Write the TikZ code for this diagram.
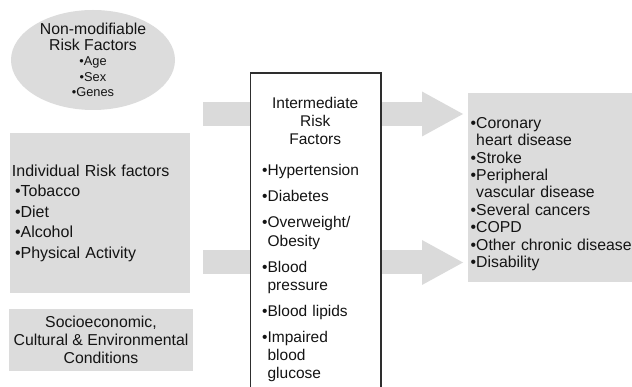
\documentclass[tikz,border=0pt]{standalone}
\usepackage{fontspec}
\setmainfont{Liberation Sans}
\usetikzlibrary{arrows.meta,positioning,shapes.geometric}
\definecolor{boxgray}{HTML}{DCDCDC}
\definecolor{arrowgray}{HTML}{DADADA}
\definecolor{inkgray}{HTML}{141414}
\definecolor{framegray}{HTML}{2E2E2E}
\newcommand{\blt}{\textbullet}

\begin{document}
\begin{tikzpicture}[x=1pt,y=-1pt,
  every node/.style={text=inkgray},
  graybox/.style={fill=boxgray, draw=none, inner sep=0pt},
  bigarrow/.style={draw=arrowgray, line width=24pt,
    -{Triangle[length=41pt,width=45pt,line width=0pt]}, shorten >=5pt},
  listtext/.style={anchor=north west, inner sep=0pt, align=left}]
\useasboundingbox (0,0) rectangle (632,387);

\node[graybox, ellipse, minimum width=164pt, minimum height=100pt] (nonmod) at (93,60) {};
\node[align=center, inner sep=0pt, font=\fontsize{15.8}{15.5}\selectfont] (nonmodtext) at (nonmod.center) {Non-modifiable\\Risk Factors\\
{\fontsize{12.8}{15}\selectfont\blt Age}\\{\fontsize{12.8}{15}\selectfont\blt Sex}\\{\fontsize{12.8}{15}\selectfont\blt Genes}};

\node[graybox, minimum width=180pt, minimum height=160pt, text width=176pt, align=left,
  font=\fontsize{16}{20.5}\selectfont] (indiv) at (100,213) {Individual Risk factors\\
\hspace*{3pt}\blt Tobacco\\\hspace*{3pt}\blt Diet\\\hspace*{3pt}\blt Alcohol\\\hspace*{3pt}\blt Physical Activity};

\node[graybox, minimum width=184pt, minimum height=62pt, align=center,
  font=\fontsize{15.8}{18}\selectfont] (socio) at (101,340) {Socioeconomic,\\Cultural \& Environmental\\Conditions};

\node[graybox, minimum width=170pt, minimum height=189pt, anchor=north west] (outcome) at (468,93) {};
\node[listtext, text width=200pt, font=\fontsize{15.8}{17.4}\selectfont] (outlist) at (470.5,117) {\blt Coronary\\
\hphantom{\blt}heart disease\\\blt Stroke\\\blt Peripheral\\\hphantom{\blt}vascular disease\\\blt Several cancers\\
\blt COPD\\\blt Other chronic disease\\\blt Disability};

\coordinate (upstart) at (203,114);
\coordinate (lowstart) at (203,262.5);
\draw[bigarrow] (upstart) -- (upstart -| outcome.west);
\draw[bigarrow] (lowstart) -- (lowstart -| outcome.west);

\node[draw=framegray, line width=1.6pt, fill=white, minimum width=130.5pt, minimum height=330pt,
  anchor=north] (inter) at (315.75,72) {};
\node[listtext, text width=106pt, font=\fontsize{15.5}{18.2}\selectfont] (interlist) at (262,97) {{\centering Intermediate\\Risk\\Factors\par}\vspace{12.8pt}
\blt Hypertension\\[7.8pt]
\blt Diabetes\\[7.8pt]
\blt Overweight/\\\hphantom{\blt}Obesity\\[7.8pt]
\blt Blood\\\hphantom{\blt}pressure\\[7.8pt]
\blt Blood lipids\\[7.8pt]
\blt Impaired\\\hphantom{\blt}blood\\\hphantom{\blt}glucose};
\end{tikzpicture}
\end{document}
